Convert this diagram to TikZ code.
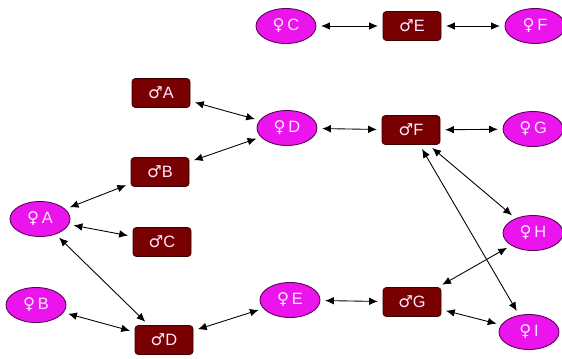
\documentclass[tikz,border=0pt]{standalone}
\usepackage{fontspec}
\setmainfont{Liberation Sans}
\newfontfamily\symfont{DejaVu Sans}
\usetikzlibrary{arrows.meta,shapes.geometric}

\definecolor{venuspink}{RGB}{236,20,236}
\definecolor{venusline}{RGB}{90,0,90}
\definecolor{marsred}{RGB}{120,0,0}
\definecolor{marsline}{RGB}{60,0,0}
\definecolor{namewhite}{RGB}{255,230,255}

\newcommand{\venus}{{\symfont ♀}\,}
\newcommand{\mars}{{\symfont ♂}}

\begin{document}
\begin{tikzpicture}
  [x=0.03cm,y=-0.03cm,<->,>={Latex[length=7.5pt,width=6.5pt]},line width=0.75pt,
   shorten >=4pt,shorten <=4pt,
   every node/.style={font=\fontsize{14}{16}\selectfont,text=namewhite}]
  \tikzstyle{female}=[ellipse,draw=venusline,fill=venuspink,minimum width=1.8cm,minimum height=1.05cm,inner sep=1pt]
  \tikzstyle{male}=[rectangle,rounded corners=3pt,draw=marsline,fill=marsred,minimum width=1.74cm,minimum height=0.87cm,inner sep=1pt]
  \useasboundingbox (0,0) rectangle (562,358);
  \begin{scope}
    \node[female] (fc) at (286,26) {\venus C};
    \node[male] (me) at (412,26) {\mars E};
    \node[female] (ff) at (535,26) {\venus F};
  \end{scope}
  \begin{scope}
    \node[male] (ma) at (161,93) {\mars A};
    \node[female] (fd) at (287,128) {\venus D};
    \node[male] (mf) at (411,130) {\mars F};
    \node[female] (fg) at (533,129) {\venus G};
    \node[male] (mb) at (160,172) {\mars B};
  \end{scope}
  \begin{scope}
    \node[female] (fa) at (40,219) {\venus A};
    \node[male] (mc) at (162,242) {\mars C};
    \node[female] (fh) at (533,233) {\venus H};
  \end{scope}
  \begin{scope}
    \node[female] (fb) at (36,305) {\venus B};
    \node[male] (md) at (164,340) {\mars D};
    \node[female] (fe) at (290,300) {\venus E};
    \node[male] (mg) at (412,302) {\mars G};
    \node[female] (fi) at (529,332) {\venus I};
  \end{scope}

  \path (fc) edge (me);
  \path (me) edge (ff);
  \path (ma) edge (fd);
  \path (mb) edge (fd);
  \path (fa) edge (mb);
  \path (fa) edge (mc);
  \path (fa) edge (md);
  \path (fb) edge (md);
  \path (md) edge (fe);
  \path (fd) edge (mf);
  \path (mf) edge (fg);
  \path (mf) edge (fh);
  \path (mf) edge (fi);
  \path (fh) edge (mg);
  \path (fe) edge (mg);
  \path (mg) edge (fi);

\end{tikzpicture}
\end{document}
